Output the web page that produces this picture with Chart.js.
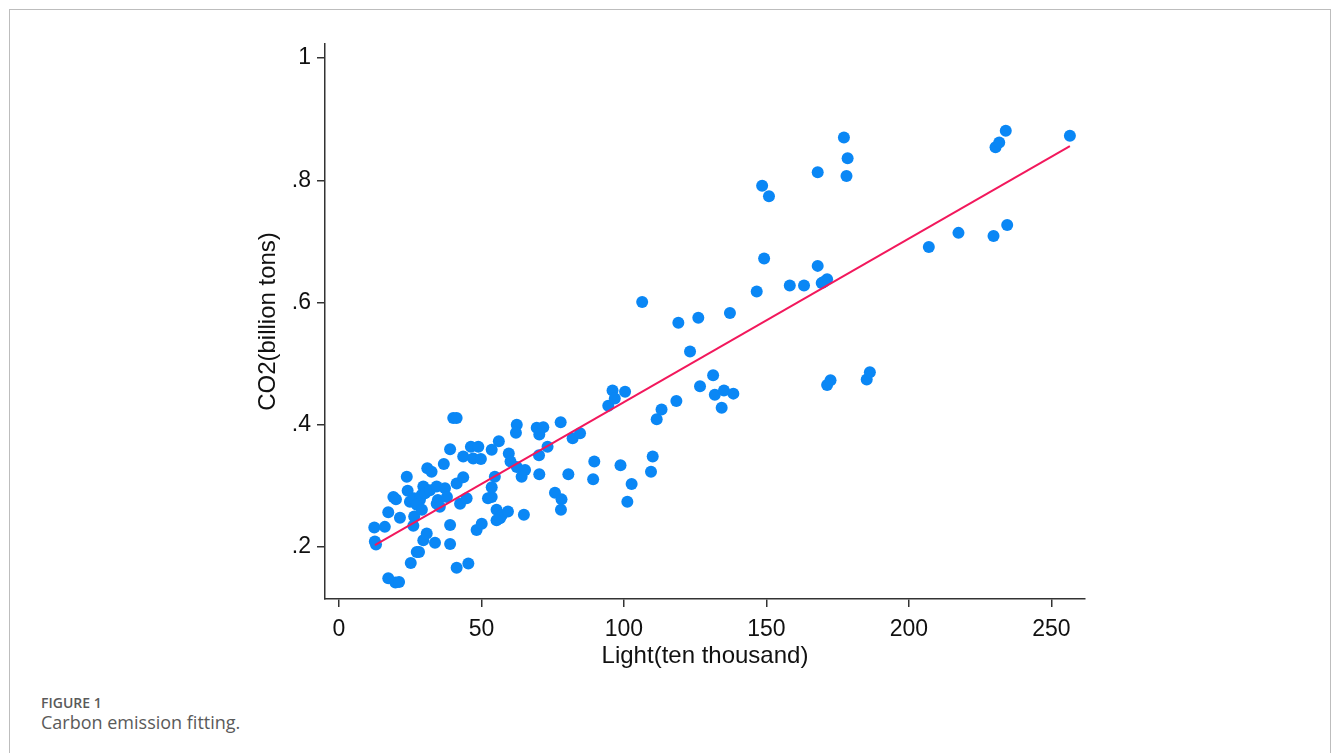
<!DOCTYPE html>
<html>
<head>
<meta charset="utf-8">
<script src="https://cdn.jsdelivr.net/npm/chart.js@4"></script>
<style>
	body { margin: 0; background: #fff; width: 1333px; height: 753px; overflow: hidden; position: relative; }
	#frame { position: absolute; left: 9px; top: 9px; width: 1322px; height: 760px; border: 1px solid #bdbdbd; box-sizing: border-box; }
	#wrap { position: absolute; left: 240px; top: 20px; width: 880px; height: 660px; }
	#cap { position: absolute; left: 41px; top: 694px; font-family: "Open Sans", sans-serif; color: #5a5a5a; }
	#cap .num { font-size: 14px; font-weight: 600; line-height: 17px; }
	#cap .txt { font-size: 18px; line-height: 22px; }
</style>
</head>
<body>
<div id="frame"></div>
<div id="wrap"><canvas id="fit-chart"></canvas></div>
<div id="cap"><div class="num">FIGURE 1</div><div class="txt">Carbon emission fitting.</div></div>
<script>
// observed points (light, CO2)
const lightVals = [
	12.4, 12.6, 13.0, 16.1, 17.3, 19.8, 21.1, 17.3, 19.1, 20.0,
	21.4, 23.8, 24.1, 24.9, 25.2, 26.1, 26.4, 27.3, 28.1, 26.3,
	28.4, 27.3, 29.1, 29.6, 30.8, 29.6, 29.0, 30.2, 31.0, 32.5,
	31.9, 33.7, 34.3, 34.7, 34.3, 35.4, 36.8, 37.2, 37.9, 39.0,
	39.0, 39.0, 40.1, 41.3, 41.3, 41.3, 43.6, 42.5, 43.6, 44.8,
	45.4, 46.3, 47.1, 48.9, 49.8, 48.3, 50.1, 53.6, 56.1, 52.3,
	53.6, 53.6, 54.7, 55.3, 57.1, 56.5, 55.3, 59.3, 59.6, 60.2,
	62.4, 62.1, 62.4, 65.3, 64.1, 64.9, 69.4, 71.7, 70.3, 70.2,
	70.3, 73.2, 75.8, 78.1, 77.9, 77.8, 80.5, 82.0, 84.6, 89.2,
	89.6, 94.5, 96.0, 96.8, 98.8, 100.4, 101.2, 102.7, 106.4, 109.5,
	110.1, 111.5, 113.2, 118.4, 119.1, 123.2, 126.1, 126.7, 131.3, 131.9,
	134.3, 135.1, 137.2, 138.4, 146.6, 148.5, 149.2, 150.9, 158.2, 163.2,
	168.0, 168.0, 169.4, 171.3, 170.2, 171.3, 172.5, 177.2, 178.5, 178.1,
	185.2, 186.3, 207.0, 217.4, 229.7, 230.4, 231.7, 234.0, 234.5, 256.5
];
const co2Vals = [
	0.232, 0.209, 0.204, 0.233, 0.149, 0.142, 0.143, 0.257, 0.282, 0.278,
	0.248, 0.315, 0.292, 0.274, 0.174, 0.235, 0.250, 0.192, 0.192, 0.280,
	0.277, 0.269, 0.261, 0.211, 0.222, 0.299, 0.285, 0.288, 0.329, 0.323,
	0.293, 0.207, 0.299, 0.277, 0.271, 0.266, 0.336, 0.296, 0.282, 0.236,
	0.205, 0.360, 0.411, 0.411, 0.166, 0.304, 0.314, 0.271, 0.348, 0.280,
	0.173, 0.364, 0.345, 0.364, 0.344, 0.228, 0.238, 0.359, 0.373, 0.280,
	0.282, 0.298, 0.315, 0.261, 0.252, 0.247, 0.244, 0.258, 0.353, 0.340,
	0.400, 0.387, 0.331, 0.326, 0.315, 0.253, 0.395, 0.396, 0.384, 0.350,
	0.319, 0.364, 0.289, 0.278, 0.261, 0.404, 0.319, 0.378, 0.386, 0.311,
	0.340, 0.431, 0.456, 0.443, 0.334, 0.454, 0.274, 0.303, 0.601, 0.323,
	0.348, 0.409, 0.425, 0.439, 0.567, 0.520, 0.575, 0.463, 0.481, 0.449,
	0.428, 0.456, 0.583, 0.451, 0.618, 0.791, 0.672, 0.774, 0.628, 0.628,
	0.813, 0.660, 0.632, 0.638, 0.634, 0.465, 0.473, 0.870, 0.836, 0.807,
	0.474, 0.486, 0.691, 0.714, 0.709, 0.854, 0.862, 0.881, 0.727, 0.873
];

// fitted line end points
const fitX = [12.6, 256.5];
const fitY = [0.203, 0.856];

const xTicks = [0, 50, 100, 150, 200, 250];
const yTicks = [0.2, 0.4, 0.6, 0.8, 1];

const font = 'Liberation Sans, Arial, sans-serif';

document.addEventListener('DOMContentLoaded', function () {
	const ctx = document.getElementById('fit-chart');
	const pts = lightVals.map((x, i) => ({ x: x, y: co2Vals[i] }));
	const line = fitX.map((x, i) => ({ x: x, y: fitY[i] }));

	new Chart(ctx, {
		type: 'scatter',
		data: {
			datasets: [
				{
					data: pts,
					backgroundColor: '#0a87f5',
					borderWidth: 0,
					pointRadius: 6,
					order: 2
				},
				{
					type: 'line',
					data: line,
					borderColor: '#f2185c',
					borderWidth: 2,
					pointRadius: 0,
					fill: false,
					order: 1
				}
			]
		},
		options: {
			responsive: true,
			maintainAspectRatio: false,
			animation: false,
			layout: { padding: { top: 24, right: 35, bottom: 9, left: 0 } },
			plugins: {
				legend: { display: false },
				tooltip: { enabled: false }
			},
			scales: {
				x: {
					type: 'linear',
					min: -4.9,
					max: 261.8,
					afterBuildTicks: function (s) { s.ticks = xTicks.map(v => ({ value: v })); },
					afterFit: function (s) { s.height = 72; },
					border: { color: '#333', width: 1.5 },
					grid: { drawOnChartArea: false, drawTicks: true, tickLength: 8, color: '#333', lineWidth: 1.5 },
					ticks: { font: { family: font, size: 23 }, color: '#111', padding: 9, maxRotation: 0 },
					title: {
						display: true,
						text: 'Light(ten thousand)',
						font: { family: font, size: 24 },
						color: '#111',
						padding: { top: 0, bottom: 0 }
					}
				},
				y: {
					type: 'linear',
					min: 0.115,
					max: 1.023,
					afterBuildTicks: function (s) { s.ticks = yTicks.map(v => ({ value: v })); },
					afterFit: function (s) { s.width = 85; },
					border: { color: '#333', width: 1.5 },
					grid: { drawOnChartArea: false, drawTicks: true, tickLength: 8, color: '#333', lineWidth: 1.5 },
					ticks: {
						font: { family: font, size: 23 },
						color: '#111',
						padding: 6,
						callback: function (v) { return v === 1 ? '1' : String(v).replace(/^0/, ''); }
					},
					title: {
						display: true,
						text: 'CO2(billion tons)',
						font: { family: font, size: 24 },
						color: '#111',
						padding: { top: 14, bottom: 0 }
					}
				}
			}
		}
	});
});
</script>
</body>
</html>
